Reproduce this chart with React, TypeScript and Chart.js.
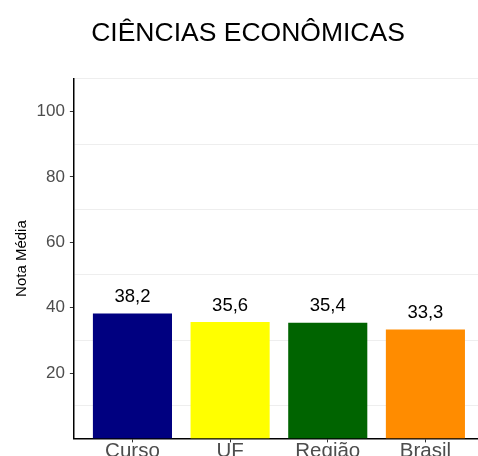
import React, { useEffect, useRef } from "react";
import { Chart, registerables } from "chart.js";

Chart.register(...registerables);

const categories = ["Curso", "UF", "Região", "Brasil"];
const values = [38.2, 35.6, 35.4, 33.3];
const barColors = ["#000080", "#FFFF00", "#006400", "#FF8C00"];
const yTickLabels = [20, 40, 60, 80, 100];
const minorGridValues = [10, 30, 50, 70, 90, 110];
const titleText = "CIÊNCIAS ECONÔMICAS";
const yAxisTitle = "Nota Média";

const FONT = "'Liberation Sans', Arial, Helvetica, sans-serif";

const valueLabels = {
  id: "valueLabels",
  afterDatasetsDraw(chart: any) {
    const ctx = chart.ctx;
    const meta = chart.getDatasetMeta(0);
    ctx.save();
    ctx.font = `18.5px ${FONT}`;
    ctx.fillStyle = "#000";
    ctx.textAlign = "center";
    ctx.textBaseline = "alphabetic";
    meta.data.forEach((bar: any, i: number) => {
      ctx.fillText(values[i].toFixed(1).replace(".", ","), bar.x, bar.y - 11.5);
    });
    ctx.restore();
  },
};

export default function App() {
  const ref = useRef<HTMLCanvasElement | null>(null);
  useEffect(() => {
    if (!ref.current) return;
    const chart = new Chart(ref.current, {
      type: "bar",
      data: {
        datasets: [
          {
            data: values.map((v, i) => ({ x: i + 1, y: v })),
            backgroundColor: barColors,
            borderWidth: 0,
            categoryPercentage: 1,
            barPercentage: 0.81,
          },
        ],
      },
      options: {
        responsive: false,
        animation: false,
        devicePixelRatio: 1,
        layout: { padding: { left: 12, right: 12, top: 0, bottom: 9 } },
        plugins: {
          legend: { display: false },
          tooltip: { enabled: false },
          title: {
            display: true,
            text: titleText,
            color: "#000",
            font: { family: FONT, size: 26.5, weight: "normal" },
            padding: { top: 18, bottom: 29 },
          },
        },
        scales: {
          x: {
            type: "linear",
            min: 0.4,
            max: 4.6,
            offset: false,
            afterBuildTicks: (scale: any) => {
              scale.ticks = categories.map((_, i) => ({ value: i + 1 }));
            },
            ticks: {
              autoSkip: false,
              color: "#4d4d4d",
              font: { family: FONT, size: 20.5 },
              padding: -3,
              callback: (v: any) => categories[Number(v) - 1] ?? "",
            },
            grid: {
              offset: false,
              drawOnChartArea: false,
              color: "rgba(0,0,0,0)",
              tickColor: "#333",
              tickLength: 4,
            },
            border: { display: true, color: "#000", width: 1.5 },
          },
          y: {
            min: 0,
            max: 110,
            afterBuildTicks: (scale: any) => {
              const vals = [...yTickLabels, ...minorGridValues].sort((a, b) => a - b);
              scale.ticks = vals.map((v) => ({ value: v }));
            },
            ticks: {
              autoSkip: false,
              color: "#4d4d4d",
              font: { family: FONT, size: 17 },
              padding: 5,
              callback: (v: any) => (yTickLabels.includes(Number(v)) ? String(v) : ""),
            },
            grid: {
              color: (c: any) =>
                minorGridValues.includes(c.tick?.value) ? "#eeeeee" : "rgba(0,0,0,0)",
              tickColor: (c: any) =>
                yTickLabels.includes(c.tick?.value) ? "#333" : "rgba(0,0,0,0)",
              tickLength: 4,
              lineWidth: 1,
            },
            border: { display: true, color: "#000", width: 1.5 },
            title: {
              display: true,
              text: yAxisTitle,
              color: "#000",
              font: { family: FONT, size: 15 },
              padding: { top: 0.5, bottom: 1 },
            },
          },
        },
      },
      plugins: [valueLabels],
    });
    return () => chart.destroy();
  }, []);
  return (
    <div
      style={{
        position: "fixed",
        left: 0,
        top: 0,
        width: 478,
        height: 456,
        overflow: "hidden",
        background: "#fff",
      }}
    >
      <canvas ref={ref} width={496} height={470} style={{ display: "block" }} />
    </div>
  );
}
